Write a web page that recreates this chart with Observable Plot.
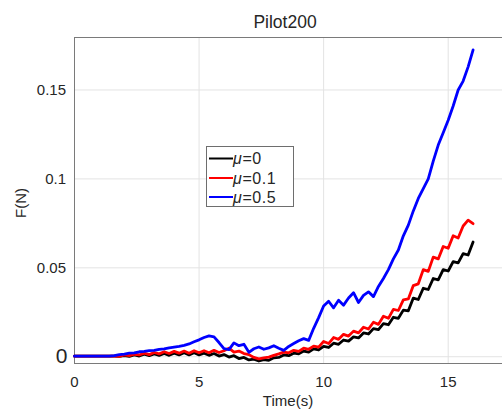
<!DOCTYPE html>
<html>
<head>
<meta charset="utf-8">
<script src="https://cdn.jsdelivr.net/npm/d3@7"></script>
<script src="https://cdn.jsdelivr.net/npm/@observablehq/plot@0.6"></script>
<style>
  html, body { margin: 0; padding: 0; background: #fff; }
  #chart { width: 502px; height: 413px; }
</style>
</head>
<body>
<div id="chart"></div>
<script>
// ---- data ----
const time = [0,0.2,0.4,0.6,0.8,1.0,1.2,1.4,1.6,1.8,2.0,2.2,2.4,2.6,2.8,3.0,3.2,3.4,3.6,3.8,
  4.0,4.2,4.4,4.6,4.8,5.0,5.2,5.4,5.6,5.8,6.0,6.2,6.4,6.6,6.8,7.0,7.2,7.4,7.6,7.8,
  8.0,8.2,8.4,8.6,8.8,9.0,9.2,9.4,9.6,9.8,10.0,10.2,10.4,10.6,10.8,11.0,11.2,11.4,11.6,11.8,
  12.0,12.2,12.4,12.6,12.8,13.0,13.2,13.4,13.6,13.8,14.0,14.2,14.4,14.6,14.8,15.0,15.2,15.4,15.6,15.8,16.0];

const mu0 = [0.0003,0.0003,0.0003,0.0003,0.0003,0.0003,0.0003,0.0003,0.0003,0.0002,0.0006,0.0002,0.0010,0.0004,0.0014,0.0006,0.0016,0.0008,0.0018,0.0008,
  0.0020,0.0010,0.0022,0.0010,0.0022,0.0010,0.0020,0.0008,0.0018,0.0004,0.0012,-0.0002,0.0006,-0.0010,-0.0004,-0.0018,-0.0014,-0.0024,-0.0016,-0.0020,
  -0.0006,-0.0004,0.0010,0.0006,0.0020,0.0016,0.0032,0.0026,0.0044,0.0038,0.0058,0.0052,0.0076,0.0070,0.0094,0.0088,0.0112,0.0106,0.0134,0.0128,
  0.0158,0.0152,0.0186,0.0180,0.0222,0.0216,0.0262,0.0258,0.0330,0.0322,0.0385,0.0378,0.0440,0.0432,0.0490,0.0482,0.0535,0.0528,0.0580,0.0572,0.0645];

const mu01 = [0.0003,0.0003,0.0003,0.0003,0.0003,0.0003,0.0003,0.0003,0.0003,0.0002,0.0010,0.0006,0.0014,0.0010,0.0020,0.0012,0.0024,0.0016,0.0028,0.0018,
  0.0030,0.0020,0.0032,0.0020,0.0034,0.0022,0.0034,0.0022,0.0036,0.0024,0.0034,0.0048,0.0026,0.0032,0.0018,0.0012,-0.0004,-0.0012,-0.0006,-0.0002,
  0.0008,0.0016,0.0026,0.0022,0.0036,0.0030,0.0048,0.0042,0.0060,0.0054,0.0086,0.0074,0.0108,0.0098,0.0126,0.0116,0.0144,0.0134,0.0166,0.0156,
  0.0194,0.0182,0.0228,0.0216,0.0266,0.0260,0.0320,0.0325,0.0400,0.0410,0.0490,0.0480,0.0560,0.0550,0.0620,0.0610,0.0680,0.0668,0.0735,0.0768,0.0748];

const mu05 = [0.0003,0.0003,0.0003,0.0003,0.0003,0.0003,0.0003,0.0004,0.0006,0.0012,0.0015,0.0020,0.0022,0.0028,0.0030,0.0034,0.0036,0.0042,0.0044,0.0050,
  0.0054,0.0058,0.0064,0.0072,0.0084,0.0095,0.0108,0.0117,0.0112,0.0080,0.0045,0.0040,0.0078,0.0062,0.0070,0.0025,0.0045,0.0055,0.0042,0.0050,
  0.0062,0.0048,0.0036,0.0058,0.0074,0.0090,0.0102,0.0092,0.0160,0.0220,0.0285,0.0312,0.0275,0.0318,0.0290,0.0330,0.0360,0.0305,0.0345,0.0365,
  0.0338,0.0395,0.0440,0.0490,0.0550,0.0600,0.0680,0.0740,0.0820,0.0890,0.0945,0.1000,0.1100,0.1190,0.1260,0.1330,0.1410,0.1500,0.1550,0.1630,0.1725];

const seriesNames = ["\u03BC=0", "\u03BC=0.1", "\u03BC=0.5"];
const seriesColors = ["#000000", "#ff0000", "#0000ff"];
const xTicks = [0, 5, 10, 15];
const yTicks = [0.05, 0.1, 0.15];
const yZeroTick = [0];
const titleText = "Pilot200";
const xLabel = "Time(s)";
const yLabel = "F(N)";

// ---- build table ----
const allSeries = [mu0, mu01, mu05];
const rows = [];
allSeries.forEach((vals, si) => {
  vals.forEach((v, i) => rows.push({t: time[i], f: v, s: seriesNames[si]}));
});

const font = "'Liberation Sans', Arial, Helvetica, sans-serif";
const gridColor = "#e3e3e3";
const axisColor = "#7a7a7a";
const textColor = "#262626";

const chart = Plot.plot({
  width: 502,
  height: 413,
  marginLeft: 74,
  marginRight: 0,
  marginTop: 37,
  marginBottom: 50,
  style: {fontFamily: font, fontSize: "15px", color: textColor, background: "#fff"},
  x: {domain: [0, 17.18]},
  y: {domain: [-0.0038, 0.1795]},
  color: {domain: seriesNames, range: seriesColors},
  marks: [
    Plot.gridX([5, 10, 15], {stroke: gridColor, strokeOpacity: 1}),
    Plot.gridY([0, 0.05, 0.1, 0.15], {stroke: gridColor, strokeOpacity: 1}),
    Plot.frame({anchor: "left", stroke: axisColor}),
    Plot.frame({anchor: "bottom", stroke: axisColor}),
    Plot.frame({anchor: "top", stroke: axisColor}),
    Plot.axisX(xTicks, {tickSize: 0, tickPadding: 13, label: null, fontSize: 15, fill: textColor, tickFormat: d => String(d)}),
    Plot.axisY(yTicks, {tickSize: 0, tickPadding: 8.5, label: null, fontSize: 15, fill: textColor, tickFormat: d => String(d)}),
    Plot.axisY(yZeroTick, {tickSize: 0, tickPadding: 7, label: null, fontSize: 21, fill: textColor, tickFormat: d => "0"}),
    Plot.line(rows, {x: "t", y: "f", z: "s", stroke: "s", strokeWidth: 2.8, strokeLinejoin: "round", strokeLinecap: "round"})
  ]
});

document.getElementById("chart").appendChild(chart);

// ---- title, axis labels, legend ----
const svg = d3.select(chart);
svg.append("text").attr("x", 285).attr("y", 28).attr("text-anchor", "middle")
  .attr("font-family", font).attr("font-size", 17.5).attr("fill", textColor).text(titleText);
svg.append("text").attr("x", 288).attr("y", 406).attr("text-anchor", "middle")
  .attr("font-family", font).attr("font-size", 15).attr("fill", textColor).text(xLabel);
svg.append("text").attr("transform", "translate(26,203) rotate(-90)").attr("text-anchor", "middle")
  .attr("font-family", font).attr("font-size", 15).attr("fill", textColor).text(yLabel);

const lg = svg.append("g");
lg.append("rect").attr("x", 206.5).attr("y", 146.5).attr("width", 87).attr("height", 60)
  .attr("fill", "#fff").attr("stroke", "#6e6e6e").attr("stroke-width", 1);
const rowY = [158.5, 178, 197];
seriesNames.forEach((name, i) => {
  lg.append("line").attr("x1", 209).attr("x2", 233).attr("y1", rowY[i]).attr("y2", rowY[i])
    .attr("stroke", seriesColors[i]).attr("stroke-width", 2);
  const t = lg.append("text").attr("x", 233).attr("y", rowY[i] + 5.5)
    .attr("text-anchor", "start")
    .attr("font-family", font).attr("font-size", 16).attr("fill", textColor)
    .attr("letter-spacing", 0.6);
  t.append("tspan").attr("font-style", "italic").text(name.slice(0, 1));
  t.append("tspan").text(name.slice(1));
});
</script>
</body>
</html>
